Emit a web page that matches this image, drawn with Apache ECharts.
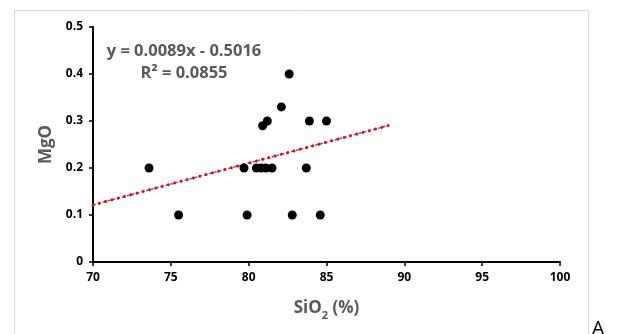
<!DOCTYPE html>
<html>
<head>
<meta charset="utf-8">
<script src="https://cdn.jsdelivr.net/npm/echarts@6/dist/echarts.min.js"></script>
<style>
html,body{margin:0;padding:0;background:#fff;}
#c{width:619px;height:334px;}
</style>
</head>
<body>
<div id="c"></div>
<script>
// Data
const sio2 = [73.6, 75.5, 79.7, 79.9, 80.5, 80.8, 81.1, 81.5, 80.9, 81.2, 82.1, 82.6, 83.9, 85.0, 83.7, 82.8, 84.6];
const mgo  = [0.2, 0.1, 0.2, 0.1, 0.2, 0.2, 0.2, 0.2, 0.29, 0.3, 0.33, 0.4, 0.3, 0.3, 0.2, 0.1, 0.1];
const trendX = [70, 89];
const slope = 0.0089, intercept = -0.5016;
const equationText = 'y = 0.0089x - 0.5016';
const r2Text = 'R² = 0.0855';
const xTicks = [70, 75, 80, 85, 90, 95, 100];
const yTicks = [0, 0.1, 0.2, 0.3, 0.4, 0.5];

const points = sio2.map((x, i) => [x, mgo[i]]);
const trend = trendX.map(x => [x, slope * x + intercept]);

const chart = echarts.init(document.getElementById('c'), null, {renderer: 'canvas'});
const font = 'Open Sans, Liberation Sans, sans-serif';
chart.setOption({
  animation: false,
  backgroundColor: '#fff',
  grid: {left: 93, right: 59, top: 27, bottom: 72, containLabel: false},
  xAxis: {
    type: 'value', min: 70, max: 100, interval: 5,
    axisLine: {show: true, onZero: false, lineStyle: {color: '#000', width: 2}},
    axisTick: {show: true, length: 4, lineStyle: {color: '#000', width: 1.5}},
    splitLine: {show: false},
    axisLabel: {color: '#000', fontWeight: 'bold', fontSize: 12, fontFamily: font, margin: 10},
    name: '{a|SiO}{s|2}{a| (%)}',
    nameLocation: 'middle', nameGap: 33,
    nameTextStyle: {
      rich: {
        a: {color: '#595959', fontWeight: 'bold', fontSize: 17, fontFamily: font, verticalAlign: 'bottom', lineHeight: 22},
        s: {color: '#595959', fontWeight: 'bold', fontSize: 11, fontFamily: font, verticalAlign: 'bottom', lineHeight: 22, padding: [0, 0, -4, 0]}
      }
    }
  },
  yAxis: {
    type: 'value', min: 0, max: 0.5, interval: 0.1,
    axisLine: {show: true, lineStyle: {color: '#000', width: 2}},
    axisTick: {show: true, length: 4, lineStyle: {color: '#000', width: 1.5}},
    splitLine: {show: false},
    axisLabel: {color: '#000', fontWeight: 'bold', fontSize: 12, fontFamily: font, margin: 10,
      formatter: v => (Math.round(v * 10) / 10).toString()},
    name: 'MgO', nameLocation: 'middle', nameGap: 37, nameRotate: 90,
    nameTextStyle: {color: '#595959', fontWeight: 'bold', fontSize: 17, fontFamily: font}
  },
  series: [
    {
      type: 'line', data: trend, symbol: 'none', silent: true, z: 1,
      lineStyle: {color: '#4472C4', width: 1.5, type: [3, 2]}
    },
    {
      type: 'line', data: trend, symbol: 'none', silent: true, z: 2,
      lineStyle: {color: '#ff0000', width: 3, type: [0.1, 6.4], cap: 'round'}
    },
    {
      type: 'scatter', data: points, symbol: 'circle', symbolSize: 9, z: 3,
      itemStyle: {color: '#000', opacity: 1}
    }
  ],
  graphic: [
    {type: 'rect', shape: {x: 14.5, y: 10.5, width: 574, height: 340}, style: {fill: null, stroke: '#d9d9d9', lineWidth: 1}, z: -10, silent: true},
    {type: 'text', x: 184, y: 51, style: {text: equationText, fill: '#595959', font: 'bold 16.5px ' + font, textAlign: 'center', textVerticalAlign: 'middle'}},
    {type: 'text', x: 184, y: 73, style: {text: r2Text, fill: '#595959', font: 'bold 16.5px ' + font, textAlign: 'center', textVerticalAlign: 'middle'}},
    {type: 'text', x: 598, y: 329, style: {text: 'A', fill: '#000', font: '20px ' + font, textAlign: 'center', textVerticalAlign: 'middle'}}
  ]
});
</script>
</body>
</html>
